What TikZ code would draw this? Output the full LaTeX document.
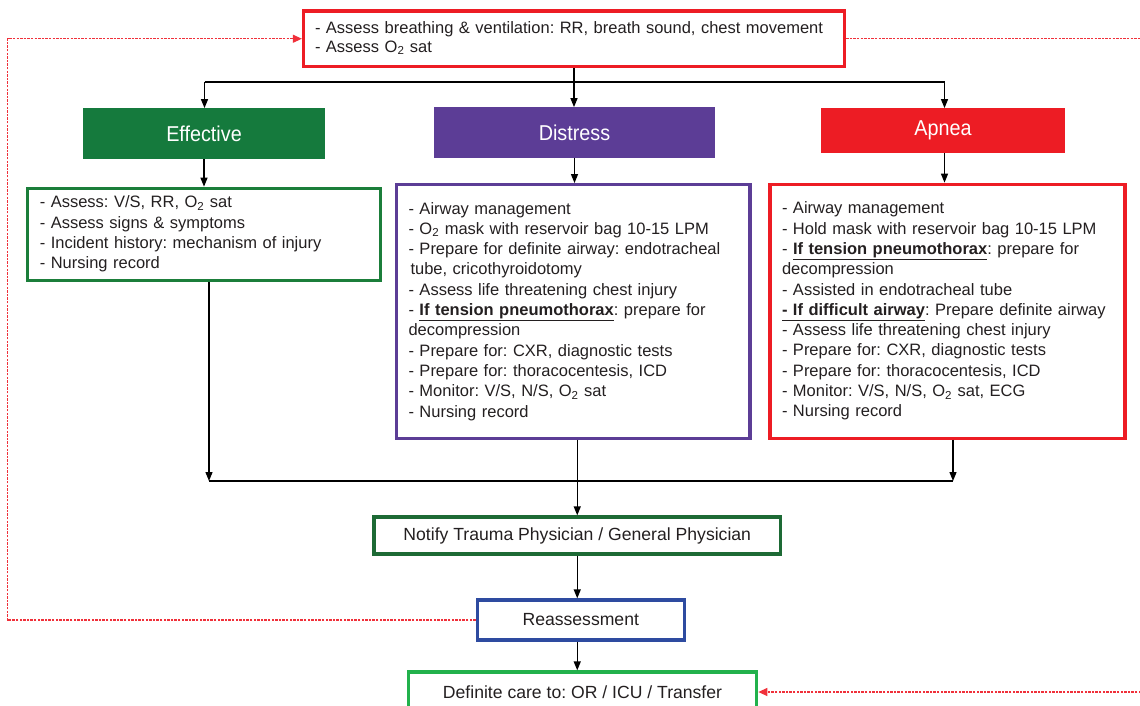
\documentclass[tikz,border=0pt]{standalone}
\usepackage{fontspec}
\setmainfont{Liberation Sans}
\newfontfamily\hdrfont[FakeStretch=0.92]{Liberation Sans}
\usetikzlibrary{arrows.meta}
\frenchspacing
\definecolor{txt}{HTML}{231F20}
\definecolor{redc}{HTML}{ED1C24}
\definecolor{effgreen}{HTML}{157A3D}
\definecolor{effline}{HTML}{1B7E3A}
\definecolor{purp}{HTML}{5C3D96}
\definecolor{notgreen}{HTML}{1D6A35}
\definecolor{blu}{HTML}{2E4BA0}
\definecolor{litgreen}{HTML}{22B14C}
\definecolor{dashred}{HTML}{F0303A}

\begin{document}
\begin{tikzpicture}[x=1pt,y=-1pt,
  listbox/.style={draw, line width=3.3pt, rectangle, inner xsep=12pt, inner ysep=0pt,
    align=left, text=txt, font=\fontsize{16.5}{20.3}\selectfont},
  header/.style={rectangle, draw=none, text=white, inner sep=0pt,
    font=\hdrfont\fontsize{21.5}{24}\selectfont},
  stepbox/.style={draw, line width=3.3pt, rectangle, inner sep=0pt, text=txt,
    font=\fontsize{17.6}{20}\selectfont},
  link/.style={line width=1.3pt, draw=black},
  arr/.style={link, -{Triangle[length=9pt,width=7pt]}},
  feedback/.style={draw=dashred, line width=1.2pt, dash pattern=on 2.4pt off 1.2pt},
  feedarr/.style={feedback, -{Triangle[length=9pt,width=8pt]}},
]
\useasboundingbox (0,0) rectangle (1140,706);
\clip (0,0) rectangle (1140,706);

% first assessment
\node[listbox, draw=redc, minimum width=541pt, minimum height=55.5pt, text width=518pt,
  inner xsep=11.5pt, font=\fontsize{16.5}{19}\selectfont] (top) at (574,38.75)
  {\begin{tabular}{@{}l@{}}
   - Assess breathing \& ventilation: RR, breath sound, chest movement\\
   - Assess O\textsubscript{2} sat
   \end{tabular}};

% three outcomes
\node[header, fill=effgreen, minimum width=242pt, minimum height=50.7pt] (effh) at (204,133.65) {Effective};
\node[header, fill=purp, minimum width=281pt, minimum height=50.4pt] (dish) at (574.5,132.5) {Distress};
\node[header, fill=redc, minimum width=244pt, minimum height=44.4pt] (apnh) at (943,130.5) {Apnea};

% actions per outcome
\node[listbox, draw=effline, minimum width=353pt, minimum height=92pt, text width=329pt] (effb) at (204.3,234.3)
  {\begin{tabular}{@{}l@{}}
   - Assess: V/S, RR, O\textsubscript{2} sat\\
   - Assess signs \& symptoms\\
   - Incident history: mechanism of injury\\
   - Nursing record
   \end{tabular}};

\node[listbox, draw=purp, minimum width=353.5pt, minimum height=253.6pt, text width=329.5pt] (disb) at (573.25,311.5)
  {\begin{tabular}{@{}l@{}}
   - Airway management\\
   - O\textsubscript{2} mask with reservoir bag 10-15 LPM\\
   - Prepare for definite airway: endotracheal\\
   \hspace{2pt}tube, cricothyroidotomy\\
   - Assess life threatening chest injury\\
   - \underline{\textbf{If tension pneumothorax}}: prepare for\\
   decompression\\
   - Prepare for: CXR, diagnostic tests\\
   - Prepare for: thoracocentesis, ICD\\
   - Monitor: V/S, N/S, O\textsubscript{2} sat\\
   - Nursing record
   \end{tabular}};

\node[listbox, draw=redc, minimum width=355pt, minimum height=254pt, text width=331pt] (apnb) at (947.5,311.3)
  {\begin{tabular}{@{}l@{}}
   - Airway management\\
   - Hold mask with reservoir bag 10-15 LPM\\
   - \underline{\textbf{If tension pneumothorax}}: prepare for\\
   decompression\\
   - Assisted in endotracheal tube\\
   \underline{\textbf{- If difficult airway}}: Prepare definite airway\\
   - Assess life threatening chest injury\\
   - Prepare for: CXR, diagnostic tests\\
   - Prepare for: thoracocentesis, ICD\\
   - Monitor: V/S, N/S, O\textsubscript{2} sat, ECG\\
   - Nursing record
   \end{tabular}};

% follow-up steps
\node[stepbox, draw=notgreen, minimum width=406.5pt, minimum height=37pt] (nfy) at (577.25,535.5)
  {Notify Trauma Physician / General Physician};
\node[stepbox, draw=blu, minimum width=207pt, minimum height=40pt] (reas) at (580.75,620) {Reassessment};
\node[stepbox, draw=litgreen, minimum width=348.4pt, minimum height=40pt] (def) at (582.5,692)
  {Definite care to: OR / ICU / Transfer};

% branching from the first assessment
\coordinate (bl) at (204.5,82);
\coordinate (br) at (944.5,82);
\draw[link] (top.south) -- (top.south |- bl);
\draw[link] (bl) -- (br);
\draw[arr] (bl) -- (effh.north -| bl);
\draw[arr] (top.south |- bl) -- (top.south |- dish.north);
\draw[arr] (br) -- (br |- apnh.north);

\draw[arr] (effh.south) -- (effh.south |- effb.north);
\draw[arr] (dish.south) -- (dish.south |- disb.north);
\draw[arr] (apnh.south -| br) -- (br |- apnb.north);

% merging into the notification step
\coordinate (jl) at (209,481);
\coordinate (jr) at (953,481);
\draw[arr] (effb.south -| jl) -- (jl);
\draw[arr] (apnb.south -| jr) -- (jr);
\draw[link] (jl) -- (jr);
\draw[arr] (disb.south -| nfy.north) -- (nfy.north);

\draw[arr] (nfy.south) -- (nfy.south |- reas.north);
\draw[arr] (reas.south -| nfy.south) -- (def.north -| nfy.south);

% feedback loops
\coordinate (lx) at (7.5,0);
\coordinate (rx) at (1141,0);
\draw[feedarr] (reas.west) -| (lx |- top.west) -- (top.west);
\draw[feedback] (top.east) -- (top.east -| rx);
\draw[feedarr] (rx |- def.east) -- (def.east);
\end{tikzpicture}
\end{document}
